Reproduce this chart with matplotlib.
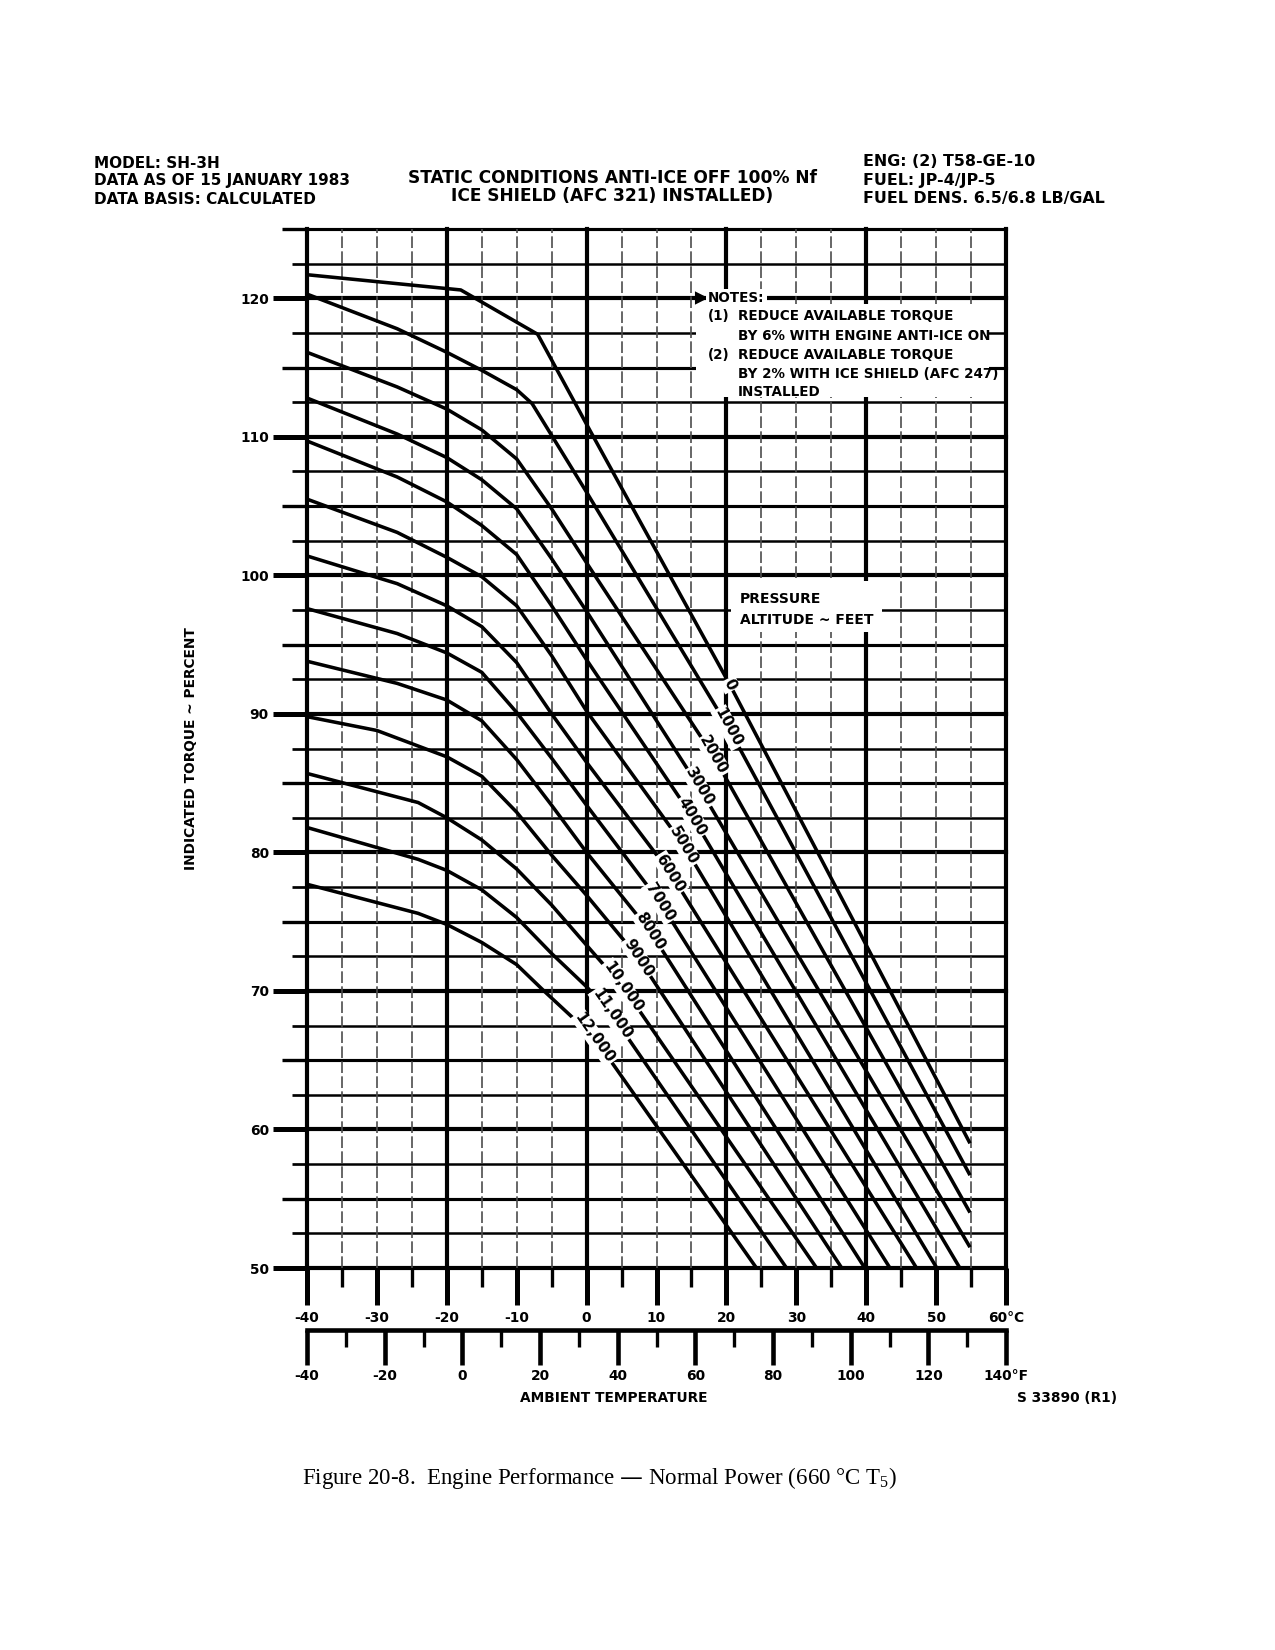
import numpy as np
import matplotlib
matplotlib.use('Agg')
import matplotlib.pyplot as plt
from matplotlib.patches import Rectangle

plt.rcParams['font.family'] = ['DejaVu Sans']
plt.rcParams['font.weight'] = 'bold'
plt.rcParams['axes.unicode_minus'] = False

# pressure altitude curves: ambient temp (deg C) -> indicated torque (%)
alt_labels = ['0', '1000', '2000', '3000', '4000', '5000', '6000',
              '7000', '8000', '9000', '10,000', '11,000', '12,000']

t_0 = [-40, -18, -7, 0, 20.5, 54.85]
q_0 = [121.7, 120.6, 117.4, 110.9, 92.1, 59.0]
t_1000 = [-40, -27.1, -20, -15, -10, -7.8, -5, 0, 20.3, 54.85]
q_1000 = [120.3, 117.8, 116.1, 114.8, 113.4, 112.4, 110.1, 106.0, 89.0, 56.7]
t_2000 = [-40, -27.1, -20, -15, -10, -5, 0, 18.1, 54.85]
q_2000 = [116.1, 113.6, 112.0, 110.5, 108.4, 104.8, 100.9, 87.0, 54.0]
t_3000 = [-40, -27.1, -20, -15, -10, -5, 0, 16.1, 54.85]
q_3000 = [112.8, 110.2, 108.5, 106.9, 104.8, 101.2, 97.4, 84.7, 51.5]
t_4000 = [-40, -27.1, -20, -15, -10, -5, 0, 15.1, 53.4]
q_4000 = [109.7, 107.1, 105.3, 103.6, 101.5, 97.8, 93.9, 82.6, 50.0]
t_5000 = [-40, -27.1, -20, -15, -10, -5, 0, 13.9, 50.1]
q_5000 = [105.5, 103.1, 101.3, 99.9, 97.8, 94.2, 90.2, 80.5, 50.0]
t_6000 = [-40, -27.1, -20, -15, -10, -5, 0, 12.0, 47.2]
q_6000 = [101.4, 99.4, 97.8, 96.3, 93.7, 90.0, 86.5, 78.5, 50.0]
t_7000 = [-40, -27.1, -20, -15, -10, -5, 0, 10.5, 43.4]
q_7000 = [97.6, 95.8, 94.4, 93.0, 90.1, 86.8, 83.4, 76.4, 50.0]
t_8000 = [-40, -27.1, -20, -15, -10, -5, 0, 9.1, 39.8]
q_8000 = [93.8, 92.2, 91.0, 89.5, 86.7, 83.4, 80.0, 74.3, 50.0]
t_9000 = [-40, -30, -20, -15, -10, -5, 0, 7.4, 36.5]
q_9000 = [89.8, 88.8, 86.9, 85.5, 82.9, 79.8, 76.9, 72.4, 50.0]
t_10000 = [-40, -24.1, -20, -15, -10, -5, 0, 5.2, 32.9]
q_10000 = [85.7, 83.6, 82.5, 80.9, 78.8, 76.2, 73.3, 70.3, 50.0]
t_11000 = [-40, -24.1, -20, -15, -10, -5, 0, 3.6, 28.6]
q_11000 = [81.8, 79.5, 78.7, 77.3, 75.3, 72.7, 70.3, 68.3, 50.0]
t_12000 = [-40, -24.1, -20, -15, -10, -6.1, 1.15, 24.3]
q_12000 = [77.7, 75.6, 74.8, 73.5, 71.9, 70.0, 66.6, 50.0]

curves_t = [t_0, t_1000, t_2000, t_3000, t_4000, t_5000, t_6000,
            t_7000, t_8000, t_9000, t_10000, t_11000, t_12000]
curves_q = [q_0, q_1000, q_2000, q_3000, q_4000, q_5000, q_6000,
            q_7000, q_8000, q_9000, q_10000, q_11000, q_12000]
# temperature where each altitude label sits on its line
label_t = [20.5, 20.3, 18.1, 16.1, 15.1, 13.9, 12.0, 10.5, 9.1, 7.4, 5.2, 3.6, 1.15]

# axis ticks
c_major = np.arange(-40, 61, 10)
c_minor = np.arange(-35, 60, 10)
f_major = np.arange(-40, 141, 20)
f_minor = np.arange(-30, 131, 20)
q_major = np.arange(50, 121, 10)
q_mid = np.arange(55, 126, 10)
q_minor = np.arange(52.5, 125, 5)

notes = ['REDUCE AVAILABLE TORQUE', 'BY 6% WITH ENGINE ANTI-ICE ON',
         'REDUCE AVAILABLE TORQUE', 'BY 2% WITH ICE SHIELD (AFC 247)', 'INSTALLED']


def c2f(c):
    return np.asarray(c) * 9.0 / 5.0 + 32.0


def f2c(f):
    return (np.asarray(f) - 32.0) * 5.0 / 9.0


W, H = 1275, 1650
fig = plt.figure(figsize=(8.5, 11), dpi=150, facecolor='white')
ax = fig.add_axes([307 / W, 1 - 1268 / H, (1006 - 307) / W, (1268 - 229) / H])
ax.set_xlim(-40, 60)
ax.set_ylim(50, 125)
for s in ax.spines.values():
    s.set_visible(False)

# grid
for q in np.arange(50, 125.1, 2.5):
    lw = 2.0 if q % 10 == 0 else (1.5 if q % 5 == 0 else 1.2)
    ax.axhline(q, color='black', lw=lw, zorder=1, clip_on=False)
for t in np.arange(-40, 60.1, 5):
    if t % 20 == 0:
        ax.axvline(t, color='black', lw=2.0, zorder=1, clip_on=False)
    else:
        ax.axvline(t, color='0.3', lw=0.8, ls=(0, (7, 2)), zorder=1, clip_on=False)

# deg C axis
ax.set_xticks(c_major)
ax.set_xticks(c_minor, minor=True)
ax.xaxis.set_major_formatter(lambda v, p: '60°C' if v == 60 else f'{v:.0f}')
ax.tick_params(axis='x', which='major', direction='out', length=17.8, width=2.4,
               pad=3, labelsize=6.6)
ax.tick_params(axis='x', which='minor', direction='out', length=9.1, width=1.6)

# torque axis
ax.set_yticks(q_major)
ax.set_yticks(q_minor, minor=True)
ax.tick_params(axis='y', which='major', direction='out', length=16.3, width=2.4,
               pad=2, labelsize=6.6)
ax.tick_params(axis='y', which='minor', direction='out', length=7.2, width=1.3)
sec_y = ax.secondary_yaxis('left')
sec_y.set_yticks(q_mid)
sec_y.tick_params(length=12, width=1.6, labelleft=False)
sec_y.spines['left'].set_visible(False)

# deg F axis
sec_x = ax.secondary_xaxis(-62 / 1039, functions=(c2f, f2c))
sec_x.set_xticks(f_major)
sec_x.set_xticks(f_minor, minor=True)
sec_x.xaxis.set_major_formatter(lambda v, p: '140°F' if v == 140 else f'{v:.0f}')
sec_x.tick_params(which='major', direction='out', length=16.8, width=2.2, pad=2,
                  labelsize=6.6)
sec_x.tick_params(which='minor', direction='out', length=8.2, width=1.6)
sec_x.spines['bottom'].set_linewidth(2.2)

# curves
for t, q in zip(curves_t, curves_q):
    ax.plot(t, q, color='black', lw=1.7, solid_capstyle='butt', solid_joinstyle='round',
            zorder=5, clip_on=False)

for name, t, q, tl in zip(alt_labels, curves_t, curves_q, label_t):
    ql = np.interp(tl, t, q)
    ang = np.degrees(np.arctan2(q[-1] - ql, t[-1] - tl))
    ax.text(tl, ql, name, rotation=ang, rotation_mode='anchor', transform_rotates_text=True,
            ha='center', va='center', fontsize=7.2, zorder=6,
            bbox=dict(boxstyle='square,pad=0.08', fc='white', ec='none'))

# notes block
ax.add_patch(Rectangle((15.6, 112.9), 57.6 - 15.6, 119.6 - 112.9, fc='white', ec='none', zorder=3))
ax.plot([16.4], [120], marker='>', ms=5, color='black', zorder=4)
ax.text(17.4, 120, 'NOTES:', fontsize=6.5, va='center', ha='left', zorder=4,
        bbox=dict(boxstyle='square,pad=0.15', fc='white', ec='none'))
note_y = [118.7, 117.3, 115.9, 114.5, 113.2]
for s, y in zip(notes, note_y):
    ax.text(21.6, y, s, fontsize=6.5, va='center', ha='left', zorder=4)
ax.text(17.4, note_y[0], '(1)', fontsize=6.5, va='center', ha='left', zorder=4)
ax.text(17.4, note_y[2], '(2)', fontsize=6.5, va='center', ha='left', zorder=4)

# pressure altitude caption
ax.add_patch(Rectangle((20.7, 95.9), 42.2 - 20.7, 99.6 - 95.9, fc='white', ec='none', zorder=3))
ax.text(21.9, 98.3, 'PRESSURE', fontsize=6.7, va='center', ha='left', zorder=4)
ax.text(21.9, 96.8, 'ALTITUDE ~ FEET', fontsize=6.7, va='center', ha='left', zorder=4)

# header
hdr = dict(fontsize=7.3, fontweight='bold', va='center')
fig.text(94 / W, 1 - 163 / H, 'MODEL: SH-3H', ha='left', **hdr)
fig.text(94 / W, 1 - 181 / H, 'DATA AS OF 15 JANUARY 1983', ha='left', **hdr)
fig.text(94 / W, 1 - 199 / H, 'DATA BASIS: CALCULATED', ha='left', **hdr)
fig.text(612 / W, 1 - 178 / H, 'STATIC CONDITIONS ANTI-ICE OFF 100% Nf', ha='center',
         fontsize=8.2, fontweight='bold', va='center')
fig.text(612 / W, 1 - 196 / H, 'ICE SHIELD (AFC 321) INSTALLED)', ha='center',
         fontsize=8.2, fontweight='bold', va='center')
hdr_r = dict(fontsize=7.6, fontweight='bold', va='center', ha='left')
fig.text(863 / W, 1 - 161 / H, 'ENG: (2) T58-GE-10', **hdr_r)
fig.text(863 / W, 1 - 180 / H, 'FUEL: JP-4/JP-5', **hdr_r)
fig.text(863 / W, 1 - 199 / H, 'FUEL DENS. 6.5/6.8 LB/GAL', **hdr_r)

fig.text(191 / W, 1 - 749 / H, 'INDICATED TORQUE ~ PERCENT', rotation=90,
         ha='center', va='center', fontsize=6.6, fontweight='bold')
fig.text(614 / W, 1 - 1398 / H, 'AMBIENT TEMPERATURE', ha='center', va='center',
         fontsize=6.6, fontweight='bold')
fig.text(1117 / W, 1 - 1398 / H, 'S 33890 (R1)', ha='right', va='center',
         fontsize=6.6, fontweight='bold')
fig.text(600 / W, 1 - 1478 / H,
         r'Figure 20-8.  Engine Performance — Normal Power (660 °C T$_{\mathregular{5}}$)',
         ha='center', va='center', fontsize=11, fontweight='normal',
         family=['Liberation Serif', 'DejaVu Serif'])

fig.savefig('out.png', dpi=150, facecolor='white')
